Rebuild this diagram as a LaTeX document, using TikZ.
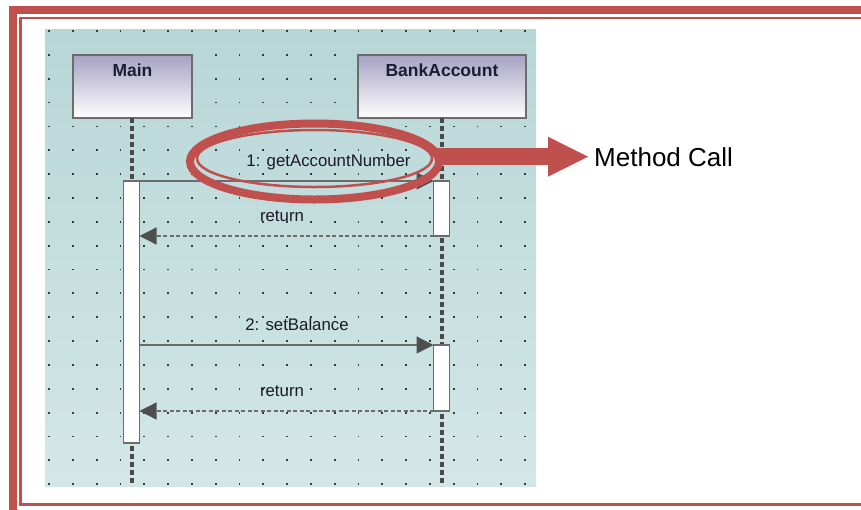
\documentclass[tikz,border=0pt]{standalone}
\usepackage{fontspec}
\setmainfont{Liberation Sans}
\usetikzlibrary{arrows.meta,shapes.geometric}
\definecolor{hired}{HTML}{C0504D}
\definecolor{lineg}{HTML}{6C6C6C}
\definecolor{tipg}{HTML}{4E4E4E}
\definecolor{lifeg}{HTML}{4A4A4A}
\definecolor{dotg}{HTML}{3A3A3A}
\definecolor{bgtop}{RGB}{184,214,214}
\definecolor{bgbot}{RGB}{211,231,231}
\definecolor{headtop}{RGB}{166,162,194}
\definecolor{inkblue}{HTML}{1C1C38}
\definecolor{labelink}{HTML}{1A1A28}

\tikzset{
  lifebox/.style={draw=lineg, line width=1.4pt, top color=headtop, bottom color=white,
    inner sep=0pt, outer sep=0pt, minimum height=63pt, text height=21pt, text depth=42pt,
    anchor=north, text=inkblue, font=\fontsize{17.5}{20}\selectfont\bfseries},
  actbox/.style={draw=lineg, fill=white, line width=1.3pt, inner sep=0pt, outer sep=0pt,
    minimum width=16pt},
  lifeline/.style={draw=lifeg, line width=3.2pt, dash pattern=on 5pt off 3pt},
  msg/.style={draw=lineg, line width=1.3pt, -{Triangle[length=17pt,width=17pt,color=tipg]}},
  retmsg/.style={msg, dash pattern=on 4pt off 2.5pt},
  msglabel/.style={anchor=base, inner sep=0pt, text=labelink, font=\fontsize{16.8}{19}\selectfont},
  ring/.style={ellipse, draw=hired, inner sep=0pt},
}

\begin{document}
\begin{tikzpicture}[x=1pt,y=-1pt]
  \useasboundingbox (0,0) rectangle (861,509);
  \clip (0,0) rectangle (861,509);
  \fill[white] (0,0) rectangle (861,509);

  % page frame
  \draw[hired, line width=8pt] (13,520) -- (13,10) -- (870,10);
  \draw[hired, line width=2.5pt] (870,18) -- (20.5,18) -- (20.5,504.5) -- (870,504.5);

  % diagram canvas with its grid of dots
  \shade[top color=bgtop, bottom color=bgbot] (45,29) rectangle (536,486);
  \foreach \i in {0,...,20}
    \foreach \j in {0,...,19}
      \fill[dotg] ({49+\i*23.8-0.9},{31+\j*23.85-0.9}) rectangle ++(1.8,1.8);

  % lifeline heads
  \node[lifebox, minimum width=119pt] (main) at (132.5,55) {Main};
  \node[lifebox, minimum width=168pt] (bank) at (442,55) {BankAccount};

  % lifelines
  \coordinate (mainend) at (132,486);
  \coordinate (bankend) at (442,486);
  \draw[lifeline] (main.south -| mainend) -- (mainend);
  \draw[lifeline] (bank.south -| bankend) -- (bankend);

  % activations
  \node[actbox, minimum height=262pt] (mA) at (131.5,312) {};
  \node[actbox, minimum height=55pt] (bA1) at (441.5,208.5) {};
  \node[actbox, minimum height=66pt] (bA2) at (441.5,378) {};

  % messages
  \draw[msg] (mA.north east) -- (bA1.north west);
  \draw[retmsg] (bA1.south west) -- (mA.east |- bA1.south west);
  \draw[msg] (mA.east |- bA2.north west) -- (bA2.north west);
  \draw[retmsg] (bA2.south west) -- (mA.east |- bA2.south west);

  \node[msglabel] (l1) at (328.5,166) {1: getAccountNumber};
  \node[msglabel] (r1) at (282,221.5) {return};
  \node[msglabel] (l2) at (297,330) {2: setBalance};
  \node[msglabel] (r2) at (282,396.5) {return};

  % highlight of the first call
  \node[ring, line width=8pt, minimum width=249pt, minimum height=76pt] (hl) at (314.5,161.5) {};
  \node[ring, line width=2.5pt, minimum width=235pt, minimum height=57pt] (hlin) at (314.5,158.5) {};

  % callout
  \node[anchor=base west, inner sep=0pt, font=\fontsize{26}{30}\selectfont] (mc) at (594,166) {Method Call};
  \draw[hired, line width=17pt, shorten <=-6pt, shorten >=6pt,
        -{Triangle[length=40pt,width=40pt,line width=0pt]}] (hl.east |- mc.west) -- (mc.west);
\end{tikzpicture}
\end{document}
